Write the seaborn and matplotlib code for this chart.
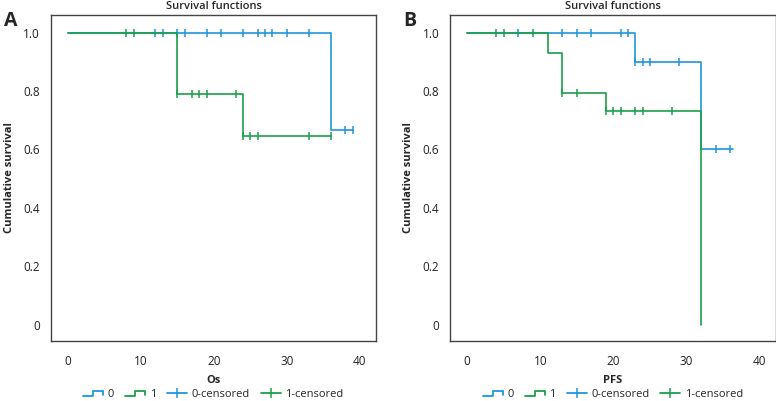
import numpy as np
import pandas as pd
import matplotlib
matplotlib.use("Agg")
import matplotlib.pyplot as plt
from matplotlib.lines import Line2D
from matplotlib.legend_handler import HandlerBase
import seaborn as sns

# Panel A (Os) - step curves
os_t0 = [0, 36, 39]
os_s0 = [1.0, 0.667, 0.667]
os_t1 = [0, 15, 24, 36]
os_s1 = [1.0, 0.79, 0.647, 0.647]
os_c0_t = [12, 13, 15, 16, 19, 21, 24, 26, 27, 28, 30, 33, 38, 39]
os_c0_s = [1.0] * 12 + [0.667, 0.667]
os_c1_t = [8, 9, 15, 17, 18, 19, 23, 24, 25, 26, 33, 36]
os_c1_s = [1.0, 1.0, 0.79, 0.79, 0.79, 0.79, 0.79, 0.647, 0.647, 0.647, 0.647, 0.647]

# Panel B (PFS) - step curves
pfs_t0 = [0, 23, 32, 36.3]
pfs_s0 = [1.0, 0.9, 0.6, 0.6]
pfs_t1 = [0, 11, 13, 19, 32]
pfs_s1 = [1.0, 0.931, 0.794, 0.733, 0.0]
pfs_c0_t = [7, 13, 15, 17, 21, 22, 23, 24, 25, 29, 34, 36]
pfs_c0_s = [1.0] * 6 + [0.9] * 4 + [0.6, 0.6]
pfs_c1_t = [4, 5, 9, 13, 15, 19, 20, 21, 23, 24, 28]
pfs_c1_s = [1.0, 1.0, 1.0, 0.794, 0.794, 0.733, 0.733, 0.733, 0.733, 0.733, 0.733]

blue = "#1E96DC"
green = "#1BA049"

sns.set_style("white")
plt.rcParams['font.family'] = ['Open Sans', 'DejaVu Sans']


class StepHandler(HandlerBase):
    # small step-shaped legend icon
    def create_artists(self, legend, orig_handle, xdescent, ydescent,
                       width, height, fontsize, trans):
        x0 = -xdescent
        y0 = -ydescent
        xs = [x0, x0 + 0.5 * width, x0 + 0.5 * width, x0 + width, x0 + width]
        ys = [y0 + 0.15 * height, y0 + 0.15 * height, y0 + 0.75 * height,
              y0 + 0.75 * height, y0 + 0.35 * height]
        ln = Line2D(xs, ys, color=orig_handle.get_color(), lw=1.3, transform=trans)
        return [ln]


fig = plt.figure(figsize=(7.76, 4.01), dpi=100)
ax_a = fig.add_axes([0.0657, 0.1496, 0.4188, 0.813])
ax_b = fig.add_axes([0.5803, 0.1496, 0.4193, 0.813])

panels = [
    (ax_a, "A", "Os", os_t0, os_s0, os_t1, os_s1, os_c0_t, os_c0_s, os_c1_t, os_c1_s),
    (ax_b, "B", "PFS", pfs_t0, pfs_s0, pfs_t1, pfs_s1, pfs_c0_t, pfs_c0_s, pfs_c1_t, pfs_c1_s),
]

for ax, letter, xlab, t0, s0, t1, s1, c0t, c0s, c1t, c1s in panels:
    sns.lineplot(x=t0, y=s0, ax=ax, color=blue, lw=1.2, drawstyle="steps-post",
                 estimator=None, sort=False)
    sns.lineplot(x=t1, y=s1, ax=ax, color=green, lw=1.2, drawstyle="steps-post",
                 estimator=None, sort=False)
    sns.scatterplot(x=c0t, y=c0s, ax=ax, color=blue, marker="|", s=40, linewidth=1.1)
    sns.scatterplot(x=c1t, y=c1s, ax=ax, color=green, marker="|", s=40, linewidth=1.1)

    ax.set_xlim(-2.3, 42.2)
    ax.set_ylim(-0.055, 1.06)
    ax.set_xticks([0, 10, 20, 30, 40])
    ax.set_yticks([0, 0.2, 0.4, 0.6, 0.8, 1.0])
    ax.set_yticklabels(["0", "0.2", "0.4", "0.6", "0.8", "1.0"])
    ax.tick_params(axis="both", direction="out", length=4, width=0.8,
                   labelsize=8.5, colors="#333333", labelcolor="#222222", pad=4)
    ax.tick_params(axis="x", pad=6)
    for sp in ax.spines.values():
        sp.set_color("#444444")
        sp.set_linewidth(1.0)
    ax.set_title("Survival functions", fontsize=8, fontweight="semibold", pad=4)
    ax.set_xlabel(xlab, fontsize=8, fontweight="bold", labelpad=5)
    ax.set_ylabel("Cumulative survival", fontsize=8, fontweight="bold", labelpad=6)
    ax.text(-0.145, 1.012, letter, transform=ax.transAxes, fontsize=14,
            fontweight="bold", ha="left", va="top")

    handles = [Line2D([], [], color=blue), Line2D([], [], color=green),
               Line2D([], [], color=blue, lw=1.3, marker="|", ms=7, mew=1.1),
               Line2D([], [], color=green, lw=1.3, marker="|", ms=7, mew=1.1)]
    labels = ["0", "1", "0-censored", "1-censored"]
    ax.legend(handles, labels, loc="center", bbox_to_anchor=(0.5, -0.165),
              ncol=4, frameon=False, fontsize=8, handlelength=1.8,
              handletextpad=0.4, columnspacing=1.0,
              handler_map={handles[0]: StepHandler(), handles[1]: StepHandler()})

fig.savefig("out.png", dpi=100)
